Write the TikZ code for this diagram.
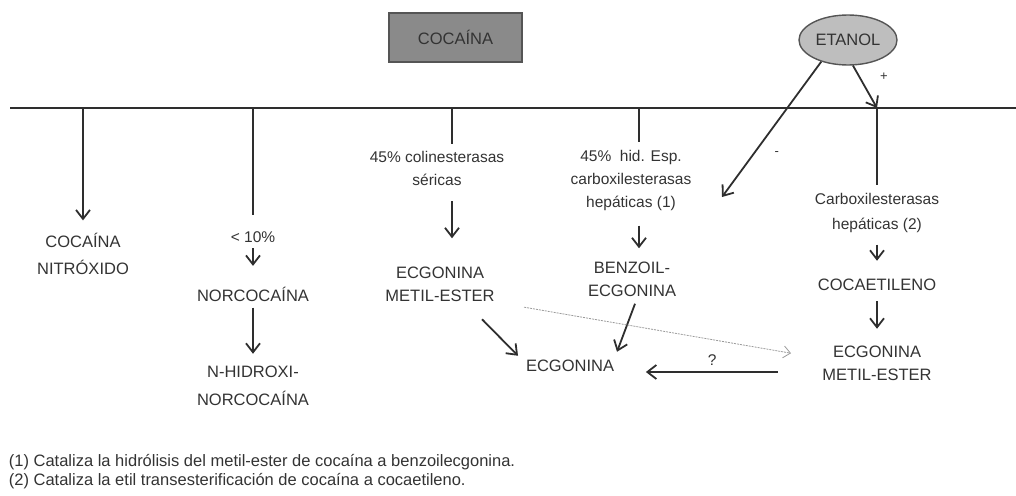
\documentclass[tikz,border=0pt]{standalone}
\usepackage{fontspec}
\setmainfont{Liberation Sans}
\usetikzlibrary{arrows.meta,shapes.geometric}
\definecolor{linegray}{HTML}{2E2E2E}
\definecolor{textgray}{HTML}{333333}
\definecolor{boxgray}{HTML}{8A8A8A}
\definecolor{ovalgray}{HTML}{BEBEBE}
\definecolor{framegray}{HTML}{555555}
\definecolor{dashgray}{HTML}{9A9A9A}
\begin{document}
\begin{tikzpicture}[x=1pt,y=-1pt,color=linegray,line width=1.8pt,
  txt/.style={font=\fontsize{15.5}{23}\selectfont,align=center,inner sep=0pt,text=textgray},
  caps/.style={txt,font=\fontsize{16.5}{23}\selectfont},
  cocabox/.style={caps,rectangle,draw=framegray,fill=boxgray,line width=1.4pt,minimum width=133pt,minimum height=49pt},
  oval/.style={caps,ellipse,draw=framegray,fill=ovalgray,line width=1.4pt,minimum width=98pt,minimum height=50pt},
  sign/.style={font=\fontsize{13}{15}\selectfont,inner sep=0pt,text=textgray},
  foot/.style={caps,anchor=west,align=left},
  arr/.style={-{Straight Barb[length=9pt,width=14pt]}},
  dasharr/.style={draw=dashgray,line width=0.8pt,dash pattern=on 2pt off 1pt,-{Straight Barb[length=7pt,width=12pt]}},
  mainline/.style={line width=2.2pt}]

  \useasboundingbox (0,0) rectangle (1016,495);

  \node[cocabox] (coca) at (455.5,37.5) {COCAÍNA};
  \node[oval] (etanol) at (848,40) {ETANOL};

  \coordinate (lstart) at (10,108);
  \coordinate (lend) at (1016,108);
  \coordinate (c1) at (83,108);
  \coordinate (c2) at (253,108);
  \coordinate (c3) at (452,108);
  \coordinate (c4) at (639,108);
  \coordinate (c5) at (877,108);
  \coordinate (inh) at (722,197);

  \node[caps] (nitro) at (83,253.5) {COCAÍNA\\[4pt]NITRÓXIDO};
  \node[txt] (lt10) at (253,237) {< 10\%};
  \node[caps] (norco) at (253,294) {NORCOCAÍNA};
  \node[caps] (hidroxi) at (253,386) {N-HIDROXI-\\[5pt]NORCOCAÍNA};
  \node[txt] (colin) at (437,168.5) {45\% colinesterasas\\séricas};
  \node[caps] (emeL) at (440,284) {ECGONINA\\METIL-ESTER};
  \node[txt] (hid) at (631,180) {45\%\ \ hid. Esp.\\carboxilesterasas\\hepáticas (1)};
  \node[caps] (benz) at (632,279) {BENZOIL-\\ECGONINA};
  \node[caps] (ecg) at (570,366) {ECGONINA};
  \node[txt] (carb) at (877,212.5) {Carboxilesterasas\\[2pt]hepáticas (2)};
  \node[caps] (cocaet) at (877,285) {COCAETILENO};
  \node[caps] (emeR) at (877,363.5) {ECGONINA\\METIL-ESTER};

  \node[foot] (foot1) at (8,462) {(1) Cataliza la hidrólisis del metil-ester de cocaína a benzoilecgonina.};
  \node[foot] (foot2) at (8,481) {(2) Cataliza la etil transesterificación de cocaína a cocaetileno.};

  \draw[mainline] (lstart) -- (lend);

  \path
   (c1) edge[arr,shorten >=11.5pt] (nitro)
   (c2) edge[shorten >=16pt] (lt10)
   (lt10) edge[arr,shorten <=5pt,shorten >=20pt] (norco)
   (norco) edge[arr,shorten <=5.5pt,shorten >=11.5pt] (hidroxi)
   (c3) edge[shorten >=6.5pt] (c3 |- colin.north)
   (c3 |- colin.south) edge[arr,shorten <=14.5pt,shorten >=27.5pt] (c3 |- emeL.north)
   ([xshift=42pt,yshift=-17pt]emeL.south) edge[arr] ([xshift=-52pt,yshift=3.5pt]ecg.north)
   ([xshift=3pt,yshift=-6.5pt]benz.south) edge[arr] ([xshift=47pt,yshift=7.5pt]ecg.north)
   (c4) edge[shorten >=6.5pt] (c4 |- hid.north)
   (c4 |- hid.south) edge[arr,shorten <=14.5pt,shorten >=12.5pt] (c4 |- benz.north)
   (etanol.219) edge[arr] node[sign,pos=0.68,right=20pt]{-} (inh)
   (etanol.281) edge[arr] node[sign,pos=0.26,right=20pt]{+} (c5)
   (c5) edge[shorten >=6.5pt] (carb)
   (carb) edge[arr,shorten <=11.5pt,shorten >=17.5pt] (cocaet)
   (cocaet) edge[arr,shorten <=9.5pt,shorten >=16.5pt] (emeR)
   ([yshift=-8.5pt]emeR.west) edge[arr,shorten <=44pt,shorten >=31pt] node[txt,above=6pt,xshift=-6pt]{?} ([yshift=-8.5pt]emeR.west -| ecg.east)
   (emeL.south east) edge[dasharr,shorten <=29pt,shorten >=31pt] ([yshift=5pt]emeR.west);
\end{tikzpicture}
\end{document}
